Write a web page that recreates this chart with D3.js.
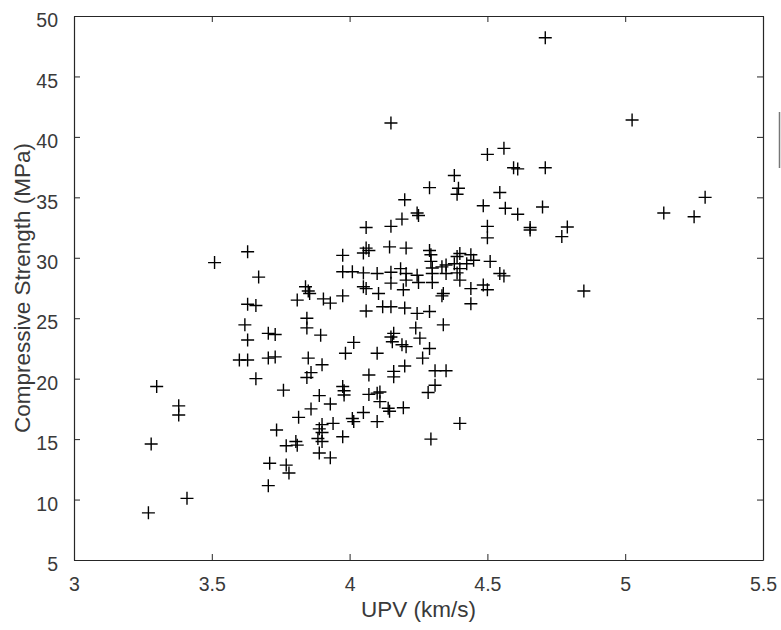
<!DOCTYPE html>
<html>
<head>
<meta charset="utf-8">
<script src="https://cdn.jsdelivr.net/npm/d3@7"></script>
<style>
  html, body { margin: 0; padding: 0; background: #fff; }
  #chart { width: 781px; height: 630px; }
  text { font-family: "Liberation Sans", Arial, Helvetica, sans-serif; }
</style>
</head>
<body>
<div id="chart"></div>
<script>
// UPV (km/s) vs compressive strength (MPa)
const upv = [
  3.27, 3.28, 3.41, 3.30, 3.38, 3.38, 3.51,
  3.63, 3.67, 3.63, 3.66, 3.62, 3.63, 3.60, 3.63, 3.66, 3.705, 3.73, 3.705, 3.73, 3.71, 3.705, 3.735,
  3.76, 3.77, 3.78, 3.77, 3.805, 3.81, 3.815, 3.845, 3.86, 3.90, 3.89, 3.93, 3.86, 3.89, 3.93,
  3.90, 3.89, 3.90, 3.885, 3.90, 3.845, 3.845, 3.895, 3.85, 3.84, 3.85, 3.855, 3.81, 3.905, 3.93,
  3.94, 3.975, 3.975, 3.98, 3.98,
  3.975, 3.975, 3.975, 3.985, 4.015, 4.01, 4.05, 4.06, 4.06, 4.05, 4.07, 4.05, 4.06, 4.06,
  4.07, 4.07, 4.10, 4.05, 4.01, 4.015, 4.10, 4.10, 4.10, 4.105,
  4.15, 4.15, 4.145, 4.205, 4.20, 4.245, 4.25, 4.19, 4.15, 4.185, 4.205, 4.205, 4.245, 4.25,
  4.15, 4.195, 4.12, 4.15, 4.20, 4.245, 4.29, 4.24, 4.34, 4.16, 4.15, 4.155, 4.19, 4.205,
  4.255, 4.29, 4.265, 4.20, 4.16, 4.16, 4.11, 4.11, 4.14, 4.145, 4.195,
  4.29, 4.38, 4.395, 4.39, 4.29, 4.295, 4.295, 4.30, 4.30, 4.30, 4.40, 4.39, 4.44, 4.45,
  4.38, 4.40, 4.39, 4.35, 4.335, 4.35, 4.34, 4.335, 4.40, 4.44, 4.44, 4.31, 4.35, 4.31,
  4.285, 4.40, 4.295, 4.425,
  4.50, 4.56, 4.595, 4.61, 4.71, 4.545, 4.485, 4.565, 4.61, 4.70, 4.655, 4.655, 4.50, 4.50,
  4.79, 4.77, 4.51, 4.545, 4.56, 4.485, 4.50, 4.85, 5.025, 5.14, 5.25, 5.29, 4.71
];
const strength = [
  8.9, 14.6, 10.1, 19.35, 17.75, 17.0, 29.6,
  30.5, 28.4, 26.15, 26.05, 24.45, 23.2, 21.55, 21.55, 20.0, 23.75, 23.65, 21.7, 21.8, 13.0, 11.15, 15.75,
  19.05, 12.85, 12.2, 14.45, 14.8, 14.5, 16.8, 20.1, 20.5, 21.15, 18.6, 17.9, 17.5, 13.85, 13.45,
  16.2, 15.85, 15.55, 15.05, 14.8, 25.0, 24.2, 23.6, 21.7, 27.6, 27.25, 27.05, 26.5, 26.6, 26.25,
  16.3, 15.2, 19.35, 19.0, 18.65,
  30.2, 28.85, 26.85, 22.1, 23.0, 28.85, 28.75, 32.5, 30.8, 30.4, 30.6, 27.6, 27.45, 25.6,
  20.3, 18.7, 18.8, 17.2, 16.7, 16.45, 16.45, 22.1, 28.7, 27.05,
  41.15, 32.6, 30.9, 30.8, 34.8, 33.7, 33.5, 33.2, 28.8, 29.1, 28.7, 28.15, 28.55, 27.95,
  27.9, 27.35, 25.95, 25.95, 25.85, 25.4, 25.55, 24.2, 24.45, 23.75, 23.45, 23.05, 22.8, 22.65,
  23.35, 22.5, 21.7, 21.05, 20.6, 20.15, 18.9, 18.1, 17.55, 17.3, 17.6,
  35.8, 36.8, 35.75, 35.25, 30.6, 30.25, 29.7, 29.15, 28.7, 27.95, 30.35, 30.1, 30.25, 29.8,
  29.5, 29.1, 28.75, 29.4, 29.25, 28.7, 27.05, 26.85, 28.15, 27.45, 26.2, 20.65, 20.65, 19.45,
  18.85, 16.3, 15.0, 29.5,
  38.55, 39.05, 37.45, 37.35, 37.45, 35.4, 34.3, 34.1, 33.6, 34.2, 32.5, 32.3, 32.6, 31.65,
  32.55, 31.75, 29.7, 28.7, 28.5, 27.75, 27.35, 27.25, 41.4, 33.7, 33.4, 35.0, 48.2
];
const xTicks = [3, 3.5, 4, 4.5, 5, 5.5];
const yTicks = [5, 10, 15, 20, 25, 30, 35, 40, 45, 50];

const points = upv.map((v, i) => ({ upv: v, fc: strength[i] }));

const W = 781, H = 630;
const box = { left: 74, right: 763, top: 16, bottom: 560 };
const axisColor = "#262626";

const svg = d3.select("#chart").append("svg")
  .attr("width", W)
  .attr("height", H)
  .attr("viewBox", [0, 0, W, H]);

const x = d3.scaleLinear().domain([3, 5.5]).range([box.left, box.right]);
const y = d3.scaleLinear().domain([5, 50]).range([box.bottom, box.top]);

// axes with inward ticks, mirrored on top / right like MATLAB's box
function styleAxis(g) {
  g.select(".domain").attr("stroke", axisColor).attr("stroke-width", 1.2);
  g.selectAll(".tick line").attr("stroke", axisColor).attr("stroke-width", 1);
  g.selectAll("text")
    .attr("fill", "#3a3a3a")
    .style("font-size", "19.5px");
}

svg.append("g")
  .attr("transform", `translate(0,${box.bottom})`)
  .call(d3.axisBottom(x).tickValues(xTicks).tickFormat(d3.format("")).tickSizeInner(-6).tickSizeOuter(0).tickPadding(17))
  .call(styleAxis);

svg.append("g")
  .attr("transform", `translate(0,${box.top})`)
  .call(d3.axisTop(x).tickValues(xTicks).tickFormat("").tickSizeInner(-6).tickSizeOuter(0))
  .call(styleAxis);

svg.append("g")
  .attr("transform", `translate(${box.left},0)`)
  .call(d3.axisLeft(y).tickValues(yTicks).tickSizeInner(-6).tickSizeOuter(0).tickPadding(16))
  .call(styleAxis)
  .selectAll("text").attr("dy", "0.55em");

svg.append("g")
  .attr("transform", `translate(${box.right},0)`)
  .call(d3.axisRight(y).tickValues(yTicks).tickFormat("").tickSizeInner(-6).tickSizeOuter(0))
  .call(styleAxis);

// axis titles
svg.append("text")
  .attr("x", (box.left + box.right) / 2)
  .attr("y", 617)
  .attr("text-anchor", "middle")
  .attr("fill", "#3a3a3a")
  .style("font-size", "22.5px")
  .text("UPV (km/s)");

svg.append("text")
  .attr("transform", `translate(30,${(box.top + box.bottom) / 2}) rotate(-90)`)
  .attr("text-anchor", "middle")
  .attr("fill", "#3a3a3a")
  .style("font-size", "22.5px")
  .text("Compressive Strength (MPa)");

// clipped edge of something outside the figure at the right border
svg.append("line")
  .attr("x1", 779.5).attr("x2", 779.5)
  .attr("y1", 112).attr("y2", 168)
  .attr("stroke", "#777")
  .attr("stroke-width", 1.5);

// '+' markers
const arm = 6.5;
const marks = svg.append("g")
  .attr("stroke", "#000")
  .attr("stroke-width", 1.4)
  .attr("fill", "none");

marks.selectAll("path")
  .data(points)
  .enter()
  .append("path")
  .attr("d", d => {
    const cx = x(d.upv), cy = y(d.fc);
    return `M${cx - arm},${cy}H${cx + arm}M${cx},${cy - arm}V${cy + arm}`;
  });
</script>
</body>
</html>
